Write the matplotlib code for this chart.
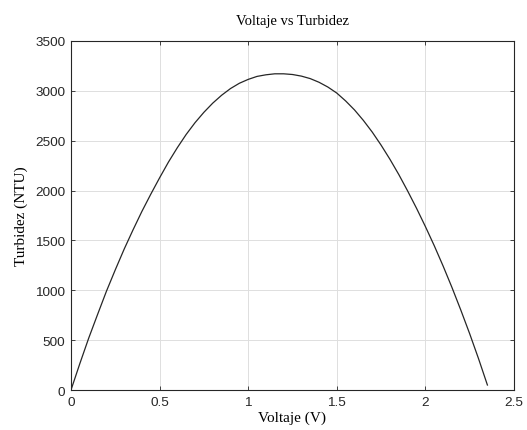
import numpy as np
import matplotlib
matplotlib.use("Agg")
import matplotlib.pyplot as plt

# values (every 0.05 V)
voltaje = [0.0, 0.05, 0.1, 0.15, 0.2, 0.25, 0.3, 0.35, 0.4, 0.45, 0.5, 0.55,
           0.6, 0.65, 0.7, 0.75, 0.8, 0.85, 0.9, 0.95, 1.0, 1.05, 1.1, 1.15,
           1.2, 1.25, 1.3, 1.35, 1.4, 1.45, 1.5, 1.55, 1.6, 1.65, 1.7, 1.75,
           1.8, 1.85, 1.9, 1.95, 2.0, 2.05, 2.1, 2.15, 2.2, 2.25, 2.3, 2.35]
turbidez = [0, 265, 520, 757, 990, 1205, 1412, 1605, 1790, 1962, 2127, 2285,
            2429, 2562, 2680, 2784, 2876, 2955, 3022, 3075, 3114, 3144, 3160, 3170,
            3170, 3163, 3147, 3122, 3085, 3037, 2977, 2898, 2808, 2703, 2586, 2455,
            2313, 2160, 1995, 1822, 1639, 1447, 1243, 1028, 801, 564, 314, 50]

x_ticks = [0, 0.5, 1, 1.5, 2, 2.5]
x_tick_labels = ["0", "0.5", "1", "1.5", "2", "2.5"]
y_ticks = [0, 500, 1000, 1500, 2000, 2500, 3000, 3500]

serif = ["Liberation Serif", "DejaVu Serif"]
sans = ["Liberation Sans", "DejaVu Sans"]

fig = plt.figure(figsize=(5.27, 4.31), dpi=100)
ax = fig.add_axes([0.1347, 0.0928, 0.8406, 0.810])

ax.plot(voltaje, turbidez, color="#262626", linewidth=0.9,
        solid_joinstyle="round")

ax.set_xlim(0, 2.5)
ax.set_ylim(0, 3500)
ax.set_xticks(x_ticks)
ax.set_xticklabels(x_tick_labels)
ax.set_yticks(y_ticks)

ax.grid(True, color="#dedede", linewidth=0.7)
ax.set_axisbelow(True)

for s in ax.spines.values():
    s.set_color("#262626")
    s.set_linewidth(0.8)

ax.tick_params(direction="in", length=3, width=0.6, colors="#262626",
               top=True, right=True, labelsize=9.7, pad=4)
for lab in ax.get_xticklabels() + ax.get_yticklabels():
    lab.set_family(sans)

ax.set_title("Voltaje vs Turbidez", family=serif, fontsize=10.5, pad=12)
ax.set_xlabel("Voltaje (V)", family=serif, fontsize=11, labelpad=2)
ax.set_ylabel("Turbidez (NTU)", family=serif, fontsize=11, labelpad=5)

fig.savefig("out.png", dpi=100)
